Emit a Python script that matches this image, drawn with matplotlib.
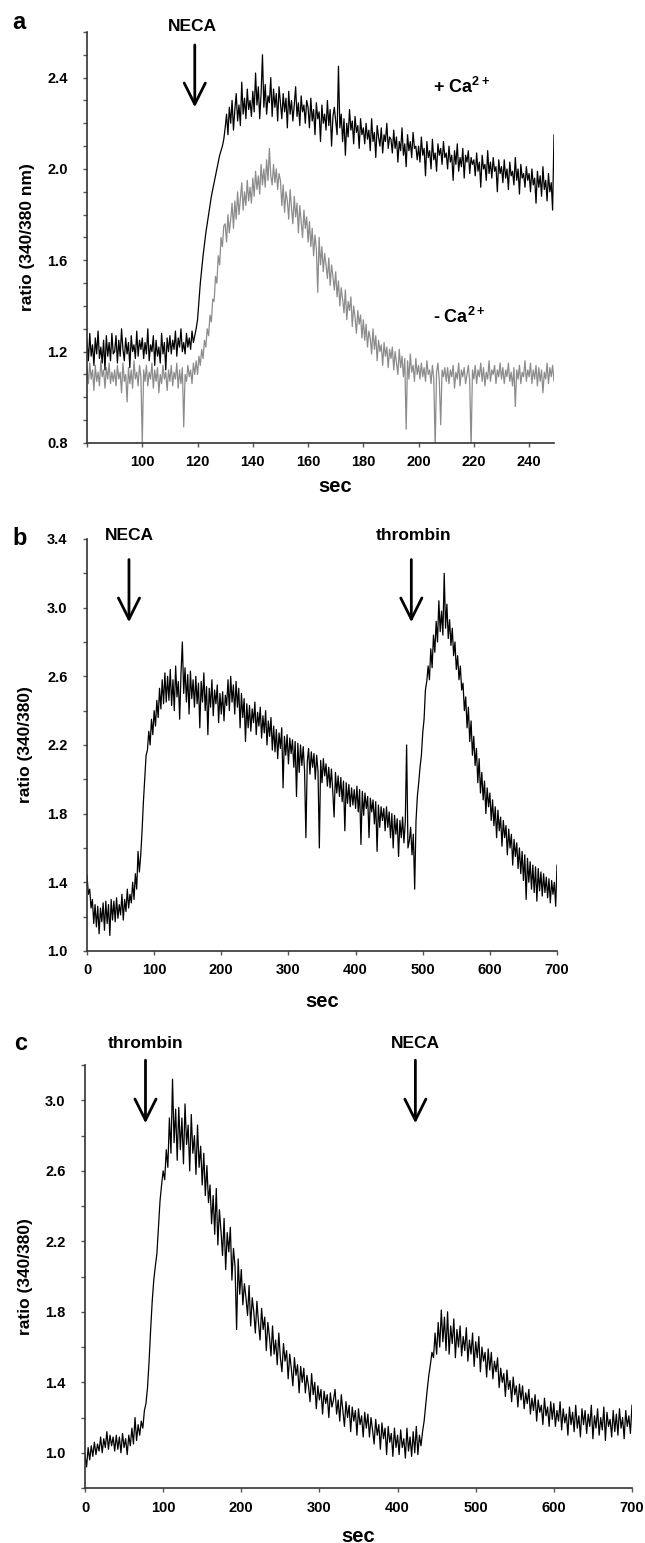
import numpy as np
import matplotlib
matplotlib.use("Agg")
import matplotlib.pyplot as plt

plt.rcParams['font.family'] = 'Liberation Sans'
plt.rcParams['font.weight'] = 'bold'
plt.rcParams['mathtext.fontset'] = 'custom'
plt.rcParams['mathtext.bf'] = 'Liberation Sans:bold'
plt.rcParams['mathtext.rm'] = 'Liberation Sans:bold'

# ---- panel a: NECA with / without extracellular Ca2+ (0.5 s samples, 80-250 s)
t_a = np.arange(80, 250.01, 0.5)
ca_plus = [
    1.25, 1.16, 1.28, 1.18, 1.23, 1.14, 1.26, 1.19, 1.29, 1.17, 1.22, 1.15, 1.25, 1.12, 1.27, 1.18, 1.24, 1.16, 1.28, 1.19,
    1.20, 1.27, 1.15, 1.25, 1.18, 1.30, 1.21, 1.16, 1.26, 1.19, 1.24, 1.13, 1.27, 1.20, 1.23, 1.17, 1.29, 1.18, 1.25, 1.21,
    1.26, 1.17, 1.24, 1.19, 1.30, 1.16, 1.23, 1.20, 1.27, 1.14, 1.25, 1.18, 1.22, 1.15, 1.28, 1.19, 1.24, 1.12, 1.26, 1.20,
    1.27, 1.19, 1.25, 1.21, 1.29, 1.18, 1.26, 1.22, 1.30, 1.20, 1.24, 1.19, 1.28, 1.22, 1.26, 1.21, 1.29, 1.24, 1.27, 1.30,
    1.34, 1.42, 1.50, 1.56, 1.62, 1.67, 1.72, 1.76, 1.80, 1.84, 1.88, 1.91, 1.94, 1.97, 2.00, 2.03, 2.06, 2.08, 2.10, 2.13,
    2.18, 2.24, 2.15, 2.27, 2.20, 2.30, 2.17, 2.26, 2.33, 2.21, 2.28, 2.19, 2.38, 2.24, 2.31, 2.22, 2.35, 2.26, 2.30, 2.23,
    2.34, 2.25, 2.42, 2.28, 2.36, 2.22, 2.33, 2.50, 2.27, 2.37, 2.24, 2.32, 2.29, 2.40, 2.23, 2.35, 2.27, 2.33, 2.21, 2.36,
    2.29, 2.22, 2.33, 2.25, 2.31, 2.18, 2.34, 2.24, 2.30, 2.21, 2.28, 2.36, 2.23, 2.29, 2.19, 2.32, 2.25, 2.28, 2.20, 2.30,
    2.27, 2.18, 2.31, 2.21, 2.26, 2.15, 2.29, 2.22, 2.25, 2.12, 2.28, 2.20, 2.24, 2.17, 2.30, 2.19, 2.26, 2.10, 2.23, 2.27,
    2.21, 2.15, 2.45, 2.18, 2.24, 2.12, 2.22, 2.06, 2.20, 2.14, 2.26, 2.17, 2.21, 2.11, 2.23, 2.16, 2.19, 2.09, 2.22, 2.15,
    2.18, 2.11, 2.20, 2.13, 2.17, 2.08, 2.22, 2.12, 2.16, 2.05, 2.19, 2.14, 2.10, 2.18, 2.07, 2.15, 2.12, 2.20, 2.09, 2.14,
    2.13, 2.07, 2.17, 2.09, 2.14, 2.03, 2.12, 2.08, 2.18, 2.06, 2.11, 2.01, 2.15, 2.08, 2.12, 2.05, 2.16, 2.09, 2.10, 2.04,
    2.10, 2.03, 2.14, 2.06, 2.09, 1.97, 2.12, 2.05, 2.08, 2.00, 2.13, 2.04, 2.07, 1.99, 2.11, 2.06, 2.09, 2.02, 2.12, 2.05,
    2.07, 2.00, 2.10, 2.03, 2.06, 1.95, 2.08, 2.02, 2.11, 1.99, 2.05, 2.01, 2.09, 1.96, 2.06, 2.03, 2.08, 1.98, 2.05, 2.02,
    2.04, 1.97, 2.07, 1.99, 2.03, 1.92, 2.06, 2.00, 2.02, 1.95, 2.08, 1.98, 2.03, 1.96, 2.05, 1.99, 2.01, 1.90, 2.04, 1.98,
    2.01, 1.94, 2.04, 1.96, 2.00, 1.91, 2.03, 1.97, 1.99, 1.93, 2.05, 1.95, 2.00, 1.89, 2.02, 1.96, 1.98, 1.92, 2.01, 1.95,
    1.98, 1.90, 2.00, 1.93, 1.96, 1.85, 1.99, 1.92, 1.97, 1.88, 2.01, 1.91, 1.95, 1.86, 1.98, 1.90, 1.94, 1.82, 2.15, 1.92,
    1.94,
]
ca_minus = [
    1.13, 1.06, 1.15, 1.08, 1.12, 1.03, 1.14, 1.07, 1.11, 1.05, 1.16, 1.09, 1.12, 1.04, 1.13, 1.08, 1.15, 1.06, 1.11, 1.07,
    1.12, 1.05, 1.14, 1.08, 1.11, 1.02, 1.15, 1.07, 1.10, 0.98, 1.13, 1.06, 1.12, 1.04, 1.16, 1.08, 1.11, 1.05, 1.14, 1.09,
    0.80, 1.12, 1.07, 1.14, 1.05, 1.11, 1.08, 1.15, 1.04, 1.12, 1.07, 1.13, 1.02, 1.10, 1.06, 1.14, 1.08, 1.11, 1.03, 1.12,
    1.07, 1.14, 1.05, 1.11, 1.08, 1.15, 1.04, 1.12, 1.06, 1.13, 0.87, 1.10, 1.07, 1.14, 1.09, 1.12, 1.06, 1.15, 1.10, 1.16,
    1.10, 1.18, 1.14, 1.21, 1.17, 1.25, 1.22, 1.30, 1.27, 1.36, 1.33, 1.43, 1.42, 1.53, 1.50, 1.62, 1.58, 1.70, 1.66, 1.75,
    1.76, 1.68, 1.80, 1.72, 1.78, 1.85, 1.74, 1.86, 1.78, 1.90, 1.80, 1.87, 1.94, 1.82, 1.90, 1.84, 1.95, 1.86, 1.92, 1.85,
    1.96, 1.88, 1.99, 1.91, 1.97, 1.89, 2.02, 1.93, 2.00, 1.92, 2.04, 1.95, 2.09, 1.97, 1.93, 2.02, 1.94, 2.00, 1.91, 1.98,
    1.95, 1.84, 1.93, 1.81, 1.90, 1.86, 1.78, 1.91, 1.83, 1.76, 1.88, 1.79, 1.85, 1.72, 1.84, 1.77, 1.70, 1.82, 1.74, 1.79,
    1.68, 1.77, 1.66, 1.74, 1.62, 1.71, 1.65, 1.46, 1.70, 1.58, 1.66, 1.55, 1.63, 1.58, 1.52, 1.61, 1.49, 1.58, 1.53, 1.47,
    1.55, 1.44, 1.51, 1.40, 1.48, 1.43, 1.37, 1.47, 1.34, 1.42, 1.38, 1.44, 1.31, 1.40, 1.35, 1.28, 1.38, 1.32, 1.36, 1.26,
    1.34, 1.25, 1.32, 1.22, 1.29, 1.26, 1.19, 1.30, 1.21, 1.27, 1.16, 1.25, 1.20, 1.23, 1.14, 1.24, 1.18, 1.22, 1.13, 1.21,
    1.17, 1.22, 1.12, 1.20, 1.15, 1.10, 1.21, 1.13, 1.18, 1.09, 1.17, 0.86, 1.16, 1.08, 1.19, 1.11, 1.14, 1.07, 1.17, 1.10,
    1.14, 1.08, 1.15, 1.09, 1.13, 1.07, 1.16, 1.10, 1.12, 1.06, 1.14, 1.08, 0.78, 1.11, 1.15, 1.07, 0.88, 1.12, 1.09, 1.13,
    1.07, 1.13, 1.06, 1.12, 1.09, 1.14, 1.04, 1.11, 1.08, 1.15, 1.05, 1.12, 1.09, 1.13, 1.06, 1.10, 1.14, 1.07, 0.78, 1.12,
    1.08, 1.14, 1.06, 1.12, 1.09, 1.15, 1.07, 1.13, 1.05, 1.11, 1.08, 1.16, 1.07, 1.12, 1.10, 1.14, 1.06, 1.12, 1.09, 1.15,
    1.08, 1.13, 1.06, 1.12, 1.09, 1.15, 1.07, 1.11, 1.05, 1.13, 0.96, 1.12, 1.08, 1.14, 1.06, 1.11, 1.09, 1.16, 1.07, 1.12,
    1.09, 1.15, 1.06, 1.12, 1.08, 1.14, 1.05, 1.13, 1.07, 1.12, 1.02, 1.11, 1.08, 1.15, 1.06, 1.13, 1.09, 1.14, 1.07, 1.12,
    1.10,
]

# ---- panel b: NECA then thrombin (2 s samples, 0-700 s)
t_bc = np.arange(0, 701, 2)
trace_b = [
    1.44, 1.33, 1.36, 1.25, 1.30, 1.16, 1.27, 1.14, 1.26, 1.10, 1.25, 1.17, 1.28, 1.12, 1.29, 1.16, 1.27, 1.09, 1.30, 1.18,
    1.29, 1.17, 1.31, 1.19, 1.27, 1.21, 1.33, 1.18, 1.30, 1.23, 1.36, 1.25, 1.33, 1.28, 1.40, 1.30, 1.45, 1.36, 1.58, 1.46,
    1.56, 1.70, 1.87, 2.00, 2.14, 2.17, 2.28, 2.20, 2.35, 2.26, 2.40, 2.31, 2.46, 2.36, 2.53, 2.41, 2.58, 2.44, 2.62, 2.45,
    2.60, 2.46, 2.64, 2.43, 2.58, 2.40, 2.66, 2.48, 2.57, 2.35, 2.62, 2.80, 2.50, 2.65, 2.45, 2.61, 2.38, 2.63, 2.47, 2.58,
    2.42, 2.60, 2.44, 2.56, 2.30, 2.57, 2.45, 2.62, 2.40, 2.54, 2.26, 2.53, 2.42, 2.58, 2.37, 2.52, 2.44, 2.55, 2.33, 2.50,
    2.38, 2.51, 2.34, 2.49, 2.43, 2.58, 2.40, 2.60, 2.45, 2.55, 2.38, 2.57, 2.42, 2.53, 2.30, 2.50, 2.36, 2.47, 2.22, 2.44,
    2.30, 2.43, 2.28, 2.41, 2.33, 2.45, 2.26, 2.39, 2.31, 2.42, 2.24, 2.37, 2.27, 2.40, 2.20, 2.34, 2.25, 2.36, 2.17, 2.31,
    2.16, 2.29, 2.12, 2.27, 2.18, 2.30, 1.95, 2.25, 2.14, 2.26, 2.09, 2.24, 2.15, 2.23, 2.07, 2.22, 1.90, 2.21, 2.04, 2.20,
    2.08, 2.19, 2.05, 1.66, 2.10, 2.18, 2.03, 2.16, 2.07, 2.15, 2.00, 2.14, 2.05, 1.60, 2.11, 1.98, 2.12, 2.02, 2.09, 1.96,
    2.07, 1.95, 2.06, 1.93, 1.78, 2.04, 1.92, 2.02, 1.90, 2.01, 1.87, 1.99, 1.70, 1.98, 1.86, 1.97, 1.84, 1.95, 1.85, 1.94,
    1.83, 1.96, 1.81, 1.94, 1.62, 1.93, 1.79, 1.92, 1.83, 1.90, 1.66, 1.89, 1.81, 1.88, 1.74, 1.87, 1.58, 1.85, 1.72, 1.84,
    1.76, 1.83, 1.70, 1.84, 1.72, 1.81, 1.66, 1.80, 1.60, 1.79, 1.68, 1.77, 1.55, 1.76, 1.66, 1.78, 1.63, 1.75, 2.20, 1.60,
    1.64, 1.72, 1.56, 1.68, 1.36, 1.76, 1.90, 1.98, 2.07, 2.14, 2.27, 2.35, 2.52, 2.57, 2.66, 2.58, 2.76, 2.65, 2.84, 2.74,
    2.92, 2.80, 3.04, 2.86, 2.98, 2.84, 3.20, 2.88, 3.02, 2.82, 2.93, 2.78, 2.88, 2.72, 2.80, 2.64, 2.72, 2.58, 2.66, 2.52,
    2.56, 2.40, 2.48, 2.30, 2.42, 2.22, 2.34, 2.14, 2.25, 2.08, 2.18, 1.98, 2.12, 1.92, 2.04, 1.88, 1.99, 1.80, 1.95, 1.84,
    1.92, 1.76, 1.88, 1.73, 1.84, 1.66, 1.82, 1.70, 1.78, 1.61, 1.76, 1.66, 1.73, 1.56, 1.71, 1.60, 1.68, 1.50, 1.65, 1.55,
    1.63, 1.48, 1.60, 1.45, 1.58, 1.41, 1.56, 1.30, 1.54, 1.40, 1.52, 1.36, 1.50, 1.34, 1.49, 1.29, 1.48, 1.35, 1.46, 1.32,
    1.45, 1.34, 1.43, 1.31, 1.42, 1.28, 1.41, 1.33, 1.40, 1.26, 1.50,
]

# ---- panel c: thrombin then NECA (2 s samples, 0-700 s)
trace_c = [
    0.99, 0.92, 1.03, 0.96, 1.04, 0.98, 1.06, 0.99, 1.05, 1.01, 1.09, 1.00, 1.08, 1.03, 1.12, 1.02, 1.10, 1.04, 1.09, 1.01,
    1.10, 1.02, 1.09, 1.00, 1.11, 1.03, 1.08, 0.99, 1.10, 1.04, 1.14, 1.05, 1.20, 1.07, 1.16, 1.10, 1.18, 1.14, 1.24, 1.28,
    1.37, 1.52, 1.70, 1.86, 1.98, 2.06, 2.13, 2.28, 2.43, 2.52, 2.60, 2.55, 2.72, 2.62, 2.90, 2.70, 3.12, 2.76, 2.95, 2.66,
    2.96, 2.72, 2.90, 2.64, 2.98, 2.75, 2.86, 2.60, 2.92, 2.70, 2.80, 2.58, 2.86, 2.62, 2.74, 2.52, 2.70, 2.46, 2.63, 2.42,
    2.52, 2.30, 2.46, 2.24, 2.50, 2.18, 2.38, 2.26, 2.12, 2.33, 2.04, 2.25, 2.14, 2.28, 1.98, 2.16, 2.06, 1.70, 2.10, 1.90,
    2.04, 1.84, 1.96, 1.88, 1.78, 1.95, 1.72, 1.88, 1.80, 1.68, 1.86, 1.74, 1.64, 1.82, 1.70, 1.77, 1.58, 1.74, 1.66, 1.55,
    1.72, 1.56, 1.64, 1.50, 1.68, 1.54, 1.46, 1.62, 1.52, 1.58, 1.42, 1.56, 1.48, 1.38, 1.54, 1.44, 1.50, 1.34, 1.49, 1.40,
    1.48, 1.34, 1.44, 1.38, 1.29, 1.45, 1.33, 1.40, 1.25, 1.38, 1.30, 1.36, 1.22, 1.35, 1.28, 1.33, 1.20, 1.34, 1.26, 1.30,
    1.36, 1.22, 1.30, 1.18, 1.33, 1.24, 1.15, 1.29, 1.20, 1.27, 1.12, 1.26, 1.18, 1.24, 1.10, 1.25, 1.16, 1.21, 1.09, 1.23,
    1.14, 1.22, 1.09, 1.20, 1.13, 1.05, 1.19, 1.10, 1.16, 1.02, 1.17, 1.08, 1.14, 0.99, 1.15, 1.06, 1.11, 0.98, 1.14, 1.03,
    1.10, 0.99, 1.13, 1.03, 1.08, 0.97, 1.14, 1.01, 1.09, 0.98, 1.12, 1.00, 1.15, 0.99, 1.10, 1.04, 1.12, 1.18, 1.27, 1.36,
    1.44, 1.50, 1.57, 1.54, 1.68, 1.56, 1.74, 1.60, 1.81, 1.63, 1.77, 1.58, 1.80, 1.56, 1.72, 1.62, 1.76, 1.54, 1.70, 1.60,
    1.72, 1.55, 1.66, 1.58, 1.71, 1.52, 1.64, 1.56, 1.68, 1.49, 1.63, 1.54, 1.66, 1.46, 1.60, 1.52, 1.57, 1.43, 1.59, 1.47,
    1.57, 1.42, 1.52, 1.46, 1.54, 1.37, 1.48, 1.40, 1.45, 1.32, 1.47, 1.36, 1.41, 1.29, 1.43, 1.33, 1.38, 1.26, 1.39, 1.30,
    1.38, 1.25, 1.34, 1.28, 1.36, 1.22, 1.31, 1.24, 1.33, 1.18, 1.30, 1.23, 1.27, 1.16, 1.31, 1.21, 1.26, 1.15, 1.29, 1.19,
    1.28, 1.15, 1.24, 1.18, 1.29, 1.13, 1.25, 1.17, 1.22, 1.10, 1.26, 1.16, 1.23, 1.12, 1.27, 1.14, 1.21, 1.09, 1.25, 1.16,
    1.24, 1.11, 1.22, 1.15, 1.27, 1.08, 1.21, 1.14, 1.25, 1.10, 1.20, 1.13, 1.26, 1.07, 1.23, 1.15, 1.19, 1.09, 1.24, 1.12,
    1.22, 1.10, 1.25, 1.14, 1.20, 1.08, 1.24, 1.15, 1.21, 1.11, 1.27,
]

fig = plt.figure(figsize=(6.45, 15.43), dpi=100)
ax_a = fig.add_axes([0.1349, 0.7129, 0.724, 0.2664])
ax_b = fig.add_axes([0.1349, 0.3837, 0.7287, 0.2670])
ax_c = fig.add_axes([0.1318, 0.0356, 0.848, 0.2741])


def style(ax, yticks, ylabels, xticks, xlabels):
    for s in ['top', 'right']:
        ax.spines[s].set_visible(False)
    for s in ['left', 'bottom']:
        ax.spines[s].set_color('#333333')
        ax.spines[s].set_linewidth(1.2)
    ax.set_yticks(yticks)
    ax.set_yticklabels(ylabels)
    ax.set_xticks(xticks)
    ax.set_xticklabels(xlabels)
    ax.tick_params(axis='y', direction='out', length=3, width=1, color='#555555',
                   pad=11, labelsize=10.5)
    ax.tick_params(axis='x', direction='out', length=3, width=1, color='#555555',
                   pad=6, labelsize=10.5)
    for lab in ax.get_xticklabels() + ax.get_yticklabels():
        lab.set_fontweight('bold')


def arrow(ax, x, y0, y1):
    ax.annotate('', xy=(x, y1), xytext=(x, y0), annotation_clip=False,
                arrowprops=dict(arrowstyle='->, head_length=0.4, head_width=0.2',
                                lw=2, color='black', mutation_scale=38,
                                shrinkA=0, shrinkB=0))


# panel a
ax_a.plot(t_a, ca_minus, color='#8c8c8c', lw=0.9)
ax_a.plot(t_a, ca_plus, color='black', lw=0.9)
ax_a.set_xlim(80, 249)
ax_a.set_ylim(0.8, 2.6)
ya = [round(0.8 + 0.1 * i, 1) for i in range(19)]
style(ax_a, ya, [f'{v:.1f}' if i % 4 == 0 else '' for i, v in enumerate(ya)],
      list(range(80, 241, 20)), [''] + [str(v) for v in range(100, 241, 20)])
ax_a.set_ylabel('ratio (340/380 nm)', fontsize=12.5, fontweight='bold')
ax_a.yaxis.set_label_coords(-0.111, 0.5)
ax_a.set_xlabel('sec', fontsize=14.5, fontweight='bold')
ax_a.xaxis.set_label_coords(0.531, -0.083)
ax_a.text(118, 2.622, 'NECA', ha='center', va='center', fontsize=12.5,
          fontweight='bold', clip_on=False)
arrow(ax_a, 119, 2.543, 2.27)
ax_a.text(215.7, 2.359, r'+ Ca$^{\mathbf{2+}}$', ha='center', va='center',
          fontsize=13, fontweight='bold')
ax_a.text(214.6, 1.35, r'- Ca$^{\mathbf{2+}}$', ha='center', va='center',
          fontsize=13, fontweight='bold')

# panel b
ax_b.plot(t_bc, trace_b, color='black', lw=0.9)
ax_b.set_xlim(0, 700)
ax_b.set_ylim(1.0, 3.4)
yb = [round(1.0 + 0.2 * i, 1) for i in range(13)]
style(ax_b, yb, [f'{v:.1f}' if i % 2 == 0 else '' for i, v in enumerate(yb)],
      list(range(0, 701, 100)), [str(v) for v in range(0, 701, 100)])
ax_b.set_ylabel('ratio (340/380)', fontsize=12.5, fontweight='bold')
ax_b.yaxis.set_label_coords(-0.115, 0.5)
ax_b.set_xlabel('sec', fontsize=14.5, fontweight='bold')
ax_b.xaxis.set_label_coords(0.5, -0.0995)
ax_b.text(62.6, 3.423, 'NECA', ha='center', va='center', fontsize=12.5,
          fontweight='bold', clip_on=False)
arrow(ax_b, 62.5, 3.28, 2.915)
ax_b.text(487, 3.423, 'thrombin', ha='center', va='center', fontsize=12.5,
          fontweight='bold', clip_on=False)
arrow(ax_b, 483, 3.28, 2.915)

# panel c
ax_c.plot(t_bc, trace_c, color='black', lw=0.9)
ax_c.set_xlim(0, 700)
ax_c.set_ylim(0.8, 3.2)
yc = [round(0.8 + 0.2 * i, 1) for i in range(13)]
style(ax_c, yc, [f'{v:.1f}' if i % 2 == 1 else '' for i, v in enumerate(yc)],
      list(range(0, 701, 100)), [str(v) for v in range(0, 701, 100)])
ax_c.set_ylabel('ratio (340/380)', fontsize=12.5, fontweight='bold')
ax_c.yaxis.set_label_coords(-0.095, 0.5)
ax_c.set_xlabel('sec', fontsize=14.5, fontweight='bold')
ax_c.xaxis.set_label_coords(0.5, -0.092)
ax_c.text(77.8, 3.325, 'thrombin', ha='center', va='center', fontsize=12.5,
          fontweight='bold', clip_on=False)
arrow(ax_c, 77.4, 3.228, 2.87)
ax_c.text(422.8, 3.325, 'NECA', ha='center', va='center', fontsize=12.5,
          fontweight='bold', clip_on=False)
arrow(ax_c, 422.8, 3.228, 2.87)

# panel letters
fig.text(0.0295, 0.9857, 'a', ha='center', va='center', fontsize=17, fontweight='bold')
fig.text(0.031, 0.6513, 'b', ha='center', va='center', fontsize=17, fontweight='bold')
fig.text(0.0326, 0.324, 'c', ha='center', va='center', fontsize=17, fontweight='bold')

fig.savefig('out.png', dpi=100)
